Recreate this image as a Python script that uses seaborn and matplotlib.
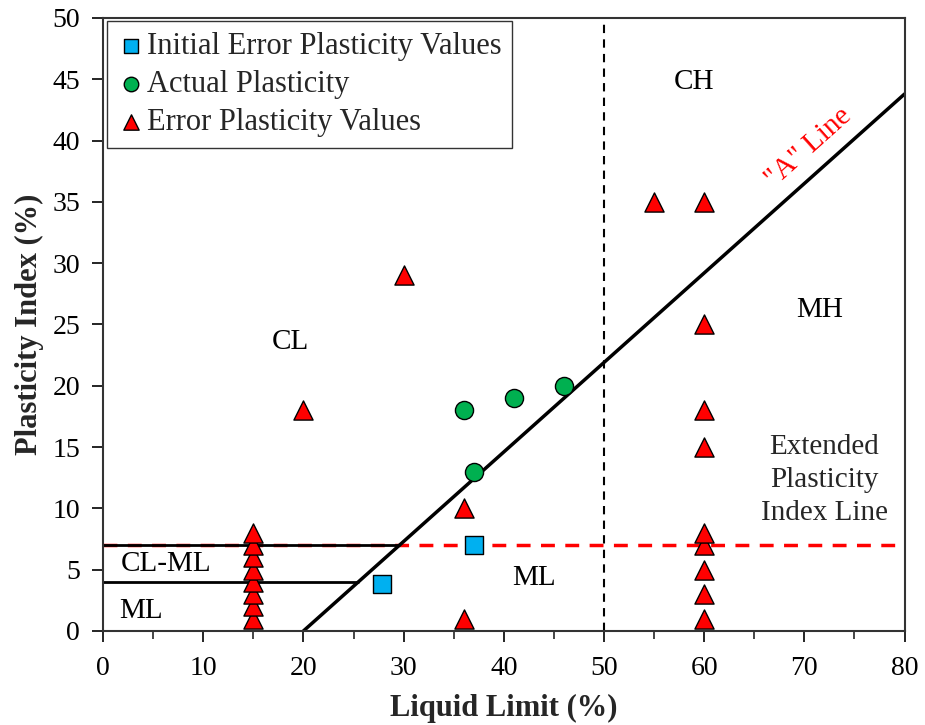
import matplotlib
matplotlib.use("Agg")
import matplotlib.pyplot as plt
import seaborn as sns
import numpy as np
import pandas as pd

# data
square_ll = [27.8, 37.0]
square_pi = [3.8, 7.0]

circle_ll = [36, 37, 41, 46]
circle_pi = [18, 13, 19, 20]

tri_ll = [15, 15, 15, 15, 15, 15, 15, 15,
          20, 30, 36, 36, 55,
          60, 60, 60, 60, 60, 60, 60, 60, 60]
tri_pi = [1, 2, 3, 4, 5, 6, 7, 8,
          18, 29, 10, 1, 35,
          1, 3, 5, 7, 8, 15, 18, 25, 35]

series_names = ["Initial Error Plasticity Values", "Actual Plasticity", "Error Plasticity Values"]

# A-line: PI = 0.73 (LL - 20)
a_line_ll = [20, 80]
a_line_pi = [0.73 * (v - 20) for v in a_line_ll]

df = pd.DataFrame({
    "LL": square_ll + circle_ll + tri_ll,
    "PI": square_pi + circle_pi + tri_pi,
    "group": [series_names[0]] * len(square_ll) + [series_names[1]] * len(circle_ll)
             + [series_names[2]] * len(tri_ll),
})

sns.set_style("ticks")
plt.rcParams['font.family'] = ['Liberation Serif', 'DejaVu Serif']

fig = plt.figure(figsize=(9.25, 7.25), dpi=100)
ax = fig.add_axes([0.1114, 0.1297, 0.8665, 0.8455])

# reference lines
ax.plot([0, 80], [7, 7], color="red", lw=2.5, ls=(0, (4, 3)), zorder=1)
ax.plot([0, 7 / 0.73 + 20], [7, 7], color="black", lw=2, zorder=2)
ax.plot([0, 4 / 0.73 + 20], [4, 4], color="black", lw=2, zorder=2)
ax.plot(a_line_ll, a_line_pi, color="black", lw=2.5, zorder=2)
ax.axvline(50, color="black", lw=1.5, ls=(0, (4, 3)), zorder=1)

palette = {series_names[0]: "#00B0F0", series_names[1]: "#00B050", series_names[2]: "#FF0000"}
markers = {series_names[0]: "s", series_names[1]: "o", series_names[2]: "^"}
sizes = {series_names[0]: 150, series_names[1]: 170, series_names[2]: 190}

for name in series_names:
    sub = df[df["group"] == name]
    sns.scatterplot(data=sub, x="LL", y="PI", color=palette[name], marker=markers[name],
                    s=sizes[name], edgecolor="black", linewidth=1, ax=ax, label=name,
                    zorder=3, clip_on=False)

ax.set_xlim(0, 80)
ax.set_ylim(0, 50)
ax.set_xticks(np.arange(0, 81, 10))
ax.set_xticks(np.arange(5, 81, 10), minor=True)
ax.set_yticks(np.arange(0, 51, 5))
ax.tick_params(axis="both", which="major", direction="out", length=8, width=1.2,
               labelsize=20, colors="black")
ax.tick_params(axis="x", which="major", pad=10)
ax.tick_params(axis="y", which="major", pad=8.5)
ax.tick_params(axis="x", which="minor", direction="out", length=6, width=1.2)
for sp in ax.spines.values():
    sp.set_linewidth(1.5)
    sp.set_color("#333333")

ax.set_xlabel("Liquid Limit (%)", fontsize=22, fontweight="bold", labelpad=9)
ax.set_ylabel("Plasticity Index (%)", fontsize=22, fontweight="bold", labelpad=6)

# zone labels
tkw = dict(fontsize=21, ha="center", va="center", color="black")
ax.text(59, 44.8, "CH", **tkw)
ax.text(71.5, 26.2, "MH", **tkw)
ax.text(18.7, 23.6, "CL", **tkw)
ax.text(6.3, 5.5, "CL-ML", **tkw)
ax.text(3.8, 1.6, "ML", **tkw)
ax.text(43.0, 4.3, "ML", **tkw)
ax.text(72.0, 12.3, "Extended\nPlasticity\nIndex Line", fontsize=21, ha="center", va="center",
        linespacing=1.35)
ax.text(70.4, 39.4, '"A" Line', fontsize=21, color="red", ha="center", va="center", rotation=41.8)

leg = ax.legend(loc="upper left", bbox_to_anchor=(0.005, 0.995), fontsize=22, frameon=True,
                fancybox=False, edgecolor="black", handletextpad=0.05, borderpad=0.35,
                labelspacing=0.3, handlelength=0.9, borderaxespad=0.0, markerscale=0.8)
leg.get_frame().set_linewidth(1.0)

fig.savefig("out.png", dpi=100)
